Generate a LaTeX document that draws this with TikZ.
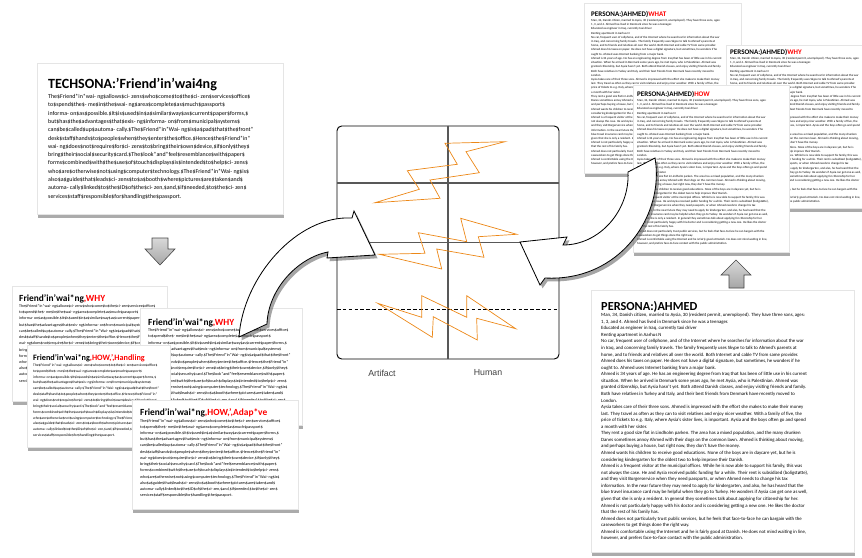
\documentclass[tikz,border=0pt]{standalone}
\usepackage{fontspec}
\setmainfont{Carlito}
\newfontfamily\axisfont{Liberation Sans}
\usetikzlibrary{shadows}

\definecolor{boltorange}{RGB}{236,136,24}
\definecolor{gridgray}{RGB}{88,88,88}

\newcommand\bodysize[2]{\fontsize{#1}{#2}\selectfont}
\newcommand\redtx[1]{\textcolor{red}{#1}}
% highlight markers, plain unless a card switches them to red
\newcommand\hlA[1]{#1}
\newcommand\hlB[1]{#1}
\newcommand\hlC[1]{#1}
\newcommand\hlD[1]{#1}
\newcommand\hlWhat[1]{#1}
\newcommand\hlWhy[1]{#1}
\newcommand\hlHow[1]{#1}

\newcommand\techtext{%
The\$Friend*in*wai- ng\$allows\$ci- zens\$who\$come\$to\$the\$ci- zen\$services\$office\$\\
\hlA{to\$spend\$the\$- me\$in\$the\$wai- ng\$area\$complete\$as\$much\$passport\$}\\
\hlA{informa- on\$as\$possible.}\$It\$is\$used\$in\$a\$\hlA{similar\$way\$as\$current\$paper\$forms,}\$\\
but\$has\$the\$advantages\$that\$\hlB{exis- ng\$informa- on\$from\$municipal\$systems\$}\\
\hlB{can\$be\$called\$up\$automa- cally.}\$\hlC{The\$Friend*in*Wai- ng\$is\$a\$pad\$that\$the\$front*}\\
\hlC{desk\$staff\$hands\$to\$people\$when\$they\$enter\$the\$office.}\$Hence\$the\$Friend*in*\\
wai- ng\$does\$not\$require\$for\$ci- zens\$to\$bring\$their\$own\$device,\$if\$only\$they\$\\
bring\$their\$\hlC{\hlD{social\$security\$card.}}\$The\$\hlC{look*and*feel\$resemblance\$with\$paper\$}\\
\hlC{forms}\$combined\$with\$\hlD{the\$use\$of\$touch\$displays}\$is\$intended\$to\$help\$ci- zens\$\\
who\$are\$otherwise\$not\$using\$computer\$technology.\$\hlB{The\$Friend*in*Wai- ng\$is\$}\\
\hlB{also\$a\$guide\$that\$leads\$ci- zens\$to\$a\$booth\$where\$pictures\$are\$taken\$and\$}\\
\hlB{automa- cally\$linked\$to\$the\$ID\$of\$the\$ci- zen,}\$and,\$if\$needed,\$to\$the\$ci- zen\$\\
services\$staff\$responsible\$for\$handling\$the\$passport.}

\newcommand\personatext{%
Man, 34, Danish citizen, married to Aysia, 30 (resident permit, unemployed). They have three sons, ages:\\
1, 3, and 4. Ahmed has lived in Denmark since he was a teenager.\\
Educated as engineer in Iraq, currently taxi driver\\
Renting apartment in Aarhus N\\
No car, \hlHow{frequent user of cellphone}, and of the Internet where he searches for information about the war\\
in Iraq, and concerning family travels. The family frequently uses \hlHow{Skype to talk to Ahmed's parents at}\\
\hlHow{home, and to friends and relatives all over the world}. Both Internet and cable TV from same provider.\\
Ahmed does his taxes on paper. He does not have a digital signature, but sometimes, he wonders if he\\
ought to. Ahmed uses Internet banking from a major bank.\\
Ahmed is 34 years of age. He has an engineering degree from Iraq that has been of little use in his current\\
situation. When he arrived in Denmark some years ago, he met Aysia, who is Palestinian. Ahmed was\\
granted citizenship, but Aysia hasn't yet. Both attend Danish classes, and enjoy visiting friends and family.\\
Both have relatives in Turkey and Italy, and their best friends from Denmark have recently moved to\\
London.\\
\hlWhat{Aysia takes care of their three sons.} Ahmed is impressed with the effort she makes to make their money\\
last. \hlWhat{They travel} as often as they can to visit relatives and enjoy nicer weather. With a family of five, the\\
price of tickets to e.g. Italy, where Aysia's sister lives, is important. Aysia and the boys often go and spend\\
a month with her sister.\\
They rent a good size flat in Lindholm parken. \hlWhy{The area has a mixed population, and the many drunken}\\
\hlWhy{Danes sometimes annoy Ahmed with their dogs on the common lawn.} Ahmed is thinking about moving,\\
and \hlWhy{perhaps buying a house, but right now, they don't have the money.}\\
Ahmed wants his children to receive good educations. None of the boys are in daycare yet, but he is\\
\hlWhat{considering kindergarten} for the oldest two to \hlHow{help improve their Danish.}\\
Ahmed is \hlWhat{a frequent visitor} at the municipal offices. While he is now able to support his family, this was\\
not always the case. He and Aysia received public funding for a while. Their rent is subsidized (boligstøtte),\\
and they visit Borgerservice when they need passports, or when Ahmed needs to change his tax\\
information. In the near future they may need to apply for kindergarten, and also, he has heard that the\\
blue travel insurance card may be helpful when they go to Turkey. He wonders if Aysia can get one as well,\\
given that she is only a resident. In general they sometimes talk about applying for citizenship for her.\\
Ahmed is not particularly happy with his doctor and is considering getting a new one. He likes the doctor\\
that the rest of his family has.\\
Ahmed does not particularly trust public services, but he feels \hlHow{that face-to-face} he can bargain with the\\
caseworkers to get things done the right way.\\
Ahmed \hlHow{is comfortable using the Internet }\hlHow{\hlWhy{and he is fairly good at Danish}}\hlWhy{. He does not mind waiting in line,}\\
\hlWhy{however, and prefers face-to-face contact with the public} administration.}

\tikzset{
	card/.style={rectangle, draw=black!10, fill=white, drop shadow={shadow xshift=0.6pt, shadow yshift=-3pt, opacity=0.6, fill=black!55}},
	cardtitle/.style={anchor=base west, inner sep=0pt, font=\bfseries\fontsize{#1}{#1}\selectfont},
	cardbody/.style={anchor=north west, inner sep=0pt, align=left},
	gridline/.style={draw=gridgray, line width=0.9pt},
	bolt/.style={draw=boltorange, line width=0.6pt, line join=miter},
	axislabel/.style={font=\axisfont\fontsize{7.5}{9}\selectfont, text=black!75},
	grayarrow/.style={draw=gray!55!black, line width=0.5pt, top color=gray!30, bottom color=gray!70},
	bigarrow/.style={draw=black, line width=0.7pt, fill=white, drop shadow={shadow xshift=2.2pt, shadow yshift=-2.8pt, opacity=0.5, fill=black!70}}
}

\begin{document}
\begin{tikzpicture}[x=0.03cm, y=-0.03cm]
		
		\useasboundingbox (0,0) rectangle (862,558);
		\clip (0,0) rectangle (862,558);
		
		%Techsona card
		\node (techCard) at (160,138.5) [card, minimum width=7.38cm, minimum height=4.53cm]{};
		\node (techTitle) at (48,88) [cardtitle=12]{TECHSONA:'Friend'in'wai4ng};
		\node (techBody) at (48,94) [cardbody, font=\bodysize{5.05}{7.1}]{\techtext};
		
		%Cluster of friend in waiting cards
		\node (whyCardA) at (89.5,343.5) [card, minimum width=4.65cm, minimum height=3.45cm]{};
		\node (whyTitleA) at (19,301) [cardtitle=8]{Friend'in'wai*ng\redtx{,WHY}};
		\node (whyBodyA) at (19,304.5) [cardbody, font=\bodysize{3.4}{5.3}]{\let\hlA\redtx\techtext};
		
		\node (whyCardB) at (221,366.5) [card, minimum width=4.86cm, minimum height=3.51cm]{};
		\node (whyTitleB) at (148,325) [cardtitle=8]{Friend'in'wai*ng\redtx{,WHY}};
		\node (whyBodyB) at (148,328.5) [cardbody, font=\bodysize{3.5}{5.4}]{\let\hlB\redtx\techtext};
		
		\node (howCardC) at (98.5,396) [card, minimum width=4.29cm, minimum height=3.06cm]{};
		\node (howTitleC) at (33,360) [cardtitle=7]{Friend'in'wai*ng\redtx{,HOW,',Handling}};
		\node (howBodyC) at (33,363.5) [cardbody, font=\bodysize{3.1}{5.0}]{\let\hlC\redtx\techtext};
		
		\node (howCardD) at (215,454.5) [card, minimum width=4.98cm, minimum height=3.27cm]{};
		\node (howTitleD) at (140,415) [cardtitle=8]{Friend'in'wai*ng\redtx{,HOW,',Adap*ve}};
		\node (howBodyD) at (140,419) [cardbody, font=\bodysize{3.5}{5.3}]{\let\hlD\redtx\techtext};
		
		%Artifact and human grid
		\node (grid) at (448,242.5) [rectangle, draw, line width=0.8pt, rounded corners=4pt, minimum width=6.66cm, minimum height=6.99cm]{};
		\draw[gridline] (grid.north) -- (grid.south);
		\draw[gridline] (337,183) -- (559,183);
		\draw[gridline] (grid.west) -- (grid.east);
		\draw[line width=0.8pt, dash pattern=on 3pt off 2pt] (337,309) -- (559,309);
		
		\node (artifactLabel) at (382,373) [axislabel]{Artifact};
		\node (humanLabel) at (488,373) [axislabel]{Human};
		
		\draw[bolt] (375,202.7) -- (440,198.3) -- (430,180) -- (479.3,172.7) -- (466,151.7) -- (505,141.7)
			-- (445,143.3) -- (457.3,164.3) -- (407.3,170.7) -- (419.3,189.3) -- cycle;
		\draw[bolt] (379.3,254.3) -- (425,253.3) -- (418.3,232.7) -- (466.7,241.7) -- (460.7,218.3) -- (516.7,234.3)
			-- (478.3,236.7) -- (484,257.3) -- (436.7,249) -- (441.7,269) -- cycle;
		\draw[bolt] (377.7,303.3) -- (421.7,317.3) -- (421.7,295.7) -- (466.7,317.3) -- (466.7,295.7) -- (515.7,328.7)
			-- (476.7,318.3) -- (477.3,340) -- (433.3,316.7) -- (432.3,337.3) -- cycle;
		
		%Persona cards
		\node (whatPersona) at (662.5,88) [card, minimum width=4.71cm, minimum height=5.10cm]{};
		\node (whatTitle) at (591,16) [cardtitle=6]{PERSONA:)AHMED)\redtx{WHAT}};
		\node (whatBody) at (591,19) [cardbody, font=\bodysize{2.6}{3.6}]{\let\hlWhat\redtx\personatext};
		
		\node (whyPersona) at (798,126.5) [card, minimum width=4.32cm, minimum height=4.89cm]{};
		\node (whyTitle) at (730,54) [cardtitle=6]{PERSONA:)AHMED)\redtx{WHY}};
		\node (whyBody) at (730,57) [cardbody, font=\bodysize{2.6}{3.6}]{\let\hlWhy\redtx\personatext};
		
		\node (howPersona) at (711,168.5) [card, minimum width=4.68cm, minimum height=5.01cm]{};
		\node (howTitle) at (637,96) [cardtitle=6]{PERSONA:)AHMED)\redtx{HOW}};
		\node (howBody) at (637,99) [cardbody, font=\bodysize{2.6}{3.6}]{\let\hlHow\redtx\personatext};
		
		\node (ahmedPersona) at (722.5,421) [card, minimum width=7.89cm, minimum height=7.86cm]{};
		\node (ahmedTitle) at (601,310) [cardtitle=10.5]{PERSONA:)AHMED};
		\node (ahmedBody) at (601,313) [cardbody, font=\bodysize{4.1}{5.6}]{\personatext};
		
		%Gray arrows
		\draw[grayarrow] (152,238) -- (168,238) -- (168,249) -- (175,249) -- (160,265) -- (145,249) -- (152,249) -- cycle;
		\draw[grayarrow] (736,260) -- (751,275) -- (744,275) -- (744,288) -- (729,288) -- (729,275) -- (721,275) -- cycle;
		
		%Curved arrows
		\draw[bigarrow] (239,337) .. controls (243,277) and (297,215) .. (352,218)
			-- (354,211) -- (375,255) -- (327,258) -- (328,252)
			.. controls (297,258) and (268,290) .. (267,324) -- cycle;
		\draw[bigarrow] (655,158) .. controls (665,215) and (620,282) .. (545,278)
			-- (540,285) -- (520,242) -- (567,237) -- (563,245)
			.. controls (600,245) and (630,210) .. (628,172) -- cycle;
		
\end{tikzpicture}
\end{document}
